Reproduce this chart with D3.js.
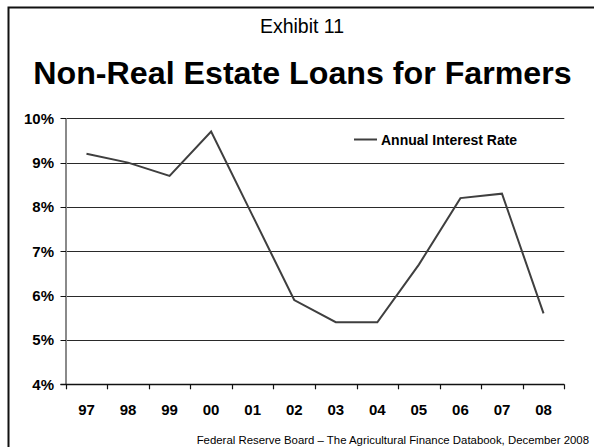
<!DOCTYPE html>
<html>
<head>
<meta charset="utf-8">
<script src="https://cdn.jsdelivr.net/npm/d3@7"></script>
<style>
  html, body { margin: 0; padding: 0; background: #fff; }
  svg { display: block; font-family: "Liberation Sans", Arial, sans-serif; }
</style>
</head>
<body>
<svg id="chart" width="594" height="447"></svg>
<script>
// Non-real-estate farm loan interest rates, 1997–2008
const years = ["97", "98", "99", "00", "01", "02", "03", "04", "05", "06", "07", "08"];
const rates = [9.2, 9.0, 8.7, 9.7, 7.8, 5.9, 5.4, 5.4, 6.7, 8.2, 8.3, 5.6];
const yTicks = [4, 5, 6, 7, 8, 9, 10];
const seriesName = "Annual Interest Rate";

const svg = d3.select("#chart");

// slide frame (top and left edges)
svg.append("path")
  .attr("d", "M8.5,447 V7.5 H594")
  .attr("fill", "none")
  .attr("stroke", "#111")
  .attr("stroke-width", 2);

svg.append("text")
  .attr("x", 302).attr("y", 33)
  .attr("text-anchor", "middle")
  .attr("font-size", 19.5)
  .text("Exhibit 11");

svg.append("text")
  .attr("x", 302.5).attr("y", 84)
  .attr("text-anchor", "middle")
  .attr("font-size", 32.2)
  .attr("font-weight", "bold")
  .text("Non-Real Estate Loans for Farmers");

const x = d3.scaleBand().domain(years).range([65.7, 564.3]);
const y = d3.scaleLinear().domain([4, 10]).range([384.3, 118.3]);

// horizontal gridlines
svg.append("g")
  .selectAll("line")
  .data(yTicks.filter(d => d > 4))
  .join("line")
  .attr("x1", x.range()[0]).attr("x2", x.range()[1])
  .attr("y1", d => Math.round(y(d)) + 0.5).attr("y2", d => Math.round(y(d)) + 0.5)
  .attr("stroke", "#2a2a2a")
  .attr("stroke-width", 1.2);

// y axis line
svg.append("line")
  .attr("x1", 66).attr("x2", 66)
  .attr("y1", y(10)).attr("y2", y(4))
  .attr("stroke", "#8a8a8a")
  .attr("stroke-width", 2);

// y tick marks and labels
const yAxis = svg.append("g");
yAxis.selectAll("line")
  .data(yTicks)
  .join("line")
  .attr("x1", 60.5).attr("x2", 66)
  .attr("y1", d => Math.round(y(d)) + 0.5).attr("y2", d => Math.round(y(d)) + 0.5)
  .attr("stroke", "#111");
yAxis.selectAll("text")
  .data(yTicks)
  .join("text")
  .attr("x", 54).attr("y", d => y(d) + 5.5)
  .attr("text-anchor", "end")
  .attr("font-size", 15)
  .attr("font-weight", "bold")
  .text(d => d + "%");

// x axis line, ticks at category boundaries, labels centred
svg.append("line")
  .attr("x1", 60.5).attr("x2", x.range()[1])
  .attr("y1", Math.round(y(4)) + 0.5).attr("y2", Math.round(y(4)) + 0.5)
  .attr("stroke", "#111")
  .attr("stroke-width", 1.5);
const boundaries = years.map(d => x(d)).concat([x.range()[1]]);
svg.append("g")
  .selectAll("line")
  .data(boundaries)
  .join("line")
  .attr("x1", d => Math.round(d) + 0.5).attr("x2", d => Math.round(d) + 0.5)
  .attr("y1", y(4)).attr("y2", y(4) + 5)
  .attr("stroke", "#111")
  .attr("stroke-width", 1.2);
svg.append("g")
  .selectAll("text")
  .data(years)
  .join("text")
  .attr("x", d => x(d) + x.bandwidth() / 2)
  .attr("y", 415)
  .attr("text-anchor", "middle")
  .attr("font-size", 15)
  .attr("font-weight", "bold")
  .text(d => d);

// rate line
const line = d3.line()
  .x((d, i) => x(years[i]) + x.bandwidth() / 2)
  .y(d => y(d));
svg.append("path")
  .datum(rates)
  .attr("d", line)
  .attr("fill", "none")
  .attr("stroke", "#3f3f3f")
  .attr("stroke-width", 2)
  .attr("stroke-linejoin", "miter");

// legend
svg.append("line")
  .attr("x1", 354).attr("x2", 377)
  .attr("y1", 139.5).attr("y2", 139.5)
  .attr("stroke", "#3f3f3f")
  .attr("stroke-width", 2);
svg.append("text")
  .attr("x", 381).attr("y", 145)
  .attr("font-size", 14)
  .attr("font-weight", "bold")
  .text(seriesName);

// source note
svg.append("text")
  .attr("x", 589).attr("y", 444)
  .attr("text-anchor", "end")
  .attr("font-size", 11.4)
  .text("Federal Reserve Board – The Agricultural Finance Databook, December 2008");
</script>
</body>
</html>
